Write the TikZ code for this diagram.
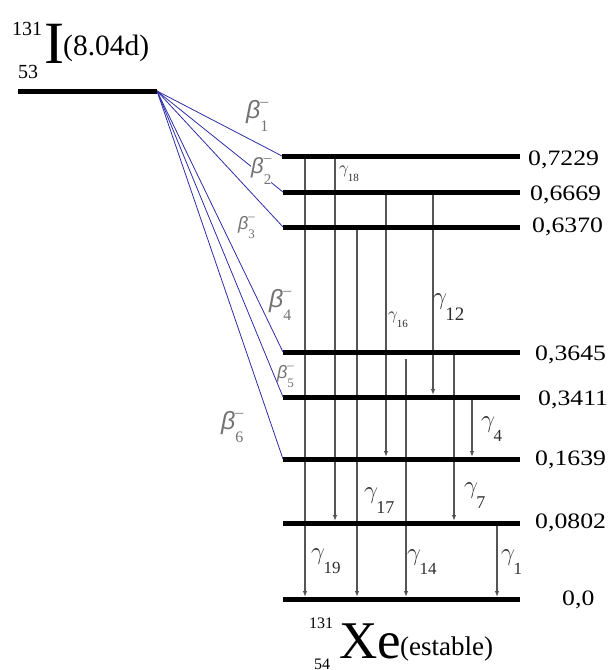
\documentclass[tikz,border=0pt]{standalone}
\usepackage{fontspec}
\setmainfont{Liberation Serif}
\newfontfamily\bfam{Liberation Sans}
\usetikzlibrary{arrows.meta}
\definecolor{betaline}{RGB}{45,45,165}
\definecolor{gline}{RGB}{85,85,85}
\definecolor{glab}{RGB}{45,45,45}
\definecolor{blab}{RGB}{115,115,115}
\newcommand\gam[3]{{\fontsize{#1}{#1}\selectfont$\gamma$\kern-0.06em\raisebox{-0.5em}{\fontsize{#2}{#2}\selectfont #3}}}
\newcommand\bet[3]{{\fontsize{#1}{#1}\selectfont{\bfam\itshape β}\rlap{\raisebox{0.5em}{\fontsize{#2}{#2}\selectfont –}}\raisebox{-0.5em}{\fontsize{#2}{#2}\selectfont #3}}}
\begin{document}
\begin{tikzpicture}[x=1pt,y=-1pt,
  lvl/.style={line width=5pt},
  gam/.style={draw=gline, line width=1.1pt, -{Latex[length=6pt,width=4.5pt]}, shorten >=2pt},
  bline/.style={draw=betaline, line width=0.8pt},
  elab/.style={anchor=base west, inner sep=0pt, font=\fontsize{22}{22}\selectfont, xscale=1.17},
  glabel/.style={anchor=west, inner sep=0pt, text=glab},
  blabel/.style={anchor=west, inner sep=0pt, text=blab},
  tlab/.style={inner sep=0pt}
]
\useasboundingbox (0,0) rectangle (612,670);
% title
\node[tlab, anchor=base west, font=\fontsize{20}{20}\selectfont] (t131) at (12,35) {131};
\node[tlab, anchor=base west, font=\fontsize{60}{60}\selectfont] (tI) at (44,63) {I};
\node[tlab, anchor=base west, font=\fontsize{29.5}{29.5}\selectfont] (thalf) at (63,55) {(8.04d)};
\node[tlab, anchor=base west, font=\fontsize{20}{20}\selectfont] (t53) at (18,78) {53};
% level coordinates
\coordinate (Pl) at (18,91); \coordinate (Pr) at (157,91);
\coordinate (A) at (282,156); \coordinate (Ar) at (520,156);
\coordinate (B) at (283,192); \coordinate (Br) at (520,192);
\coordinate (C) at (283,227); \coordinate (Cr) at (520,227);
\coordinate (D) at (283,352); \coordinate (Dr) at (520,352);
\coordinate (E) at (283,397); \coordinate (Er) at (520,397);
\coordinate (F) at (283,459); \coordinate (Fr) at (520,459);
\coordinate (G) at (283,523); \coordinate (Gr) at (520,523);
\coordinate (H) at (283,599); \coordinate (Hr) at (520,599);
% gamma columns
\coordinate (x19) at (305,0); \coordinate (x18) at (335,0);
\coordinate (x17) at (357,0); \coordinate (x16) at (386,0);
\coordinate (x14) at (406,0); \coordinate (x12) at (433,0);
\coordinate (x7) at (454,0);  \coordinate (x4) at (472,0);
\coordinate (x1) at (497,0);
\coordinate (D14) at (406,359);
% gamma transitions
\draw[gam] (x19 |- A) -- (x19 |- H);
\draw[gam] (x18 |- A) -- (x18 |- G);
\draw[gam] (x17 |- C) -- (x17 |- H);
\draw[gam] (x16 |- B) -- (x16 |- F);
\draw[gam] (x12 |- B) -- (x12 |- E);
\draw[gam] (D14) -- (x14 |- H);
\draw[gam] (x7 |- D) -- (x7 |- G);
\draw[gam] (x4 |- E) -- (x4 |- F);
\draw[gam] (x1 |- G) -- (x1 |- H);
% beta transitions
\draw[bline] (Pr) -- (A);
\draw[bline] (Pr) -- (B);
\draw[bline] (Pr) -- (C);
\draw[bline] (Pr) -- (D);
\draw[bline] (Pr) -- (E);
\draw[bline] (Pr) -- (F);
% levels
\draw[lvl] (Pl) -- (Pr);
\draw[lvl] (A) -- (Ar);
\draw[lvl] (B) -- (Br);
\draw[lvl] (C) -- (Cr);
\draw[lvl] (D) -- (Dr);
\draw[lvl] (E) -- (Er);
\draw[lvl] (F) -- (Fr);
\draw[lvl] (G) -- (Gr);
\draw[lvl] (H) -- (Hr);
% energy labels
\node[elab] (eA) at (528,165) {0,7229};
\node[elab] (eB) at (530,200) {0,6669};
\node[elab] (eC) at (532,232) {0,6370};
\node[elab] (eD) at (535,360) {0,3645};
\node[elab] (eE) at (538,405) {0,3411};
\node[elab] (eF) at (535,465) {0,1639};
\node[elab] (eG) at (535,528) {0,0802};
\node[elab] (eH) at (562,605) {0,0};
% beta labels
\node[blabel] (b1) at (246,116) {\bet{25}{16}{1}};
\node[blabel, fill=white] (b2) at (251,171) {\bet{22}{15}{2}};
\node[blabel] (b3) at (238,228) {\bet{18}{13}{3}};
\node[blabel] (b4) at (269,305) {\bet{25}{16}{4}};
\node[blabel] (b5) at (277,377) {\bet{18}{13}{5}};
\node[blabel] (b6) at (221,427) {\bet{25}{16}{6}};
% gamma labels
\node[glabel] (g18) at (339,174) {\gam{17}{11}{18}};
\node[glabel] (g16) at (388,320) {\gam{17}{11}{16}};
\node[glabel] (g12) at (433,307) {\gam{32}{19}{12}};
\node[glabel] (g4) at (481,429) {\gam{28}{17}{4}};
\node[glabel] (g17) at (364,501) {\gam{30}{18}{17}};
\node[glabel] (g7) at (464,496) {\gam{30}{18}{7}};
\node[glabel] (g19) at (311,561) {\gam{28}{17}{19}};
\node[glabel] (g14) at (407,562) {\gam{28}{17}{14}};
\node[glabel] (g1) at (501,562) {\gam{28}{17}{1}};
% daughter
\node[tlab, anchor=base, font=\fontsize{16}{16}\selectfont] (x131) at (321,628) {131};
\node[tlab, anchor=base west, font=\fontsize{53}{53}\selectfont] (xXe) at (339,658) {Xe};
\node[tlab, anchor=base west, font=\fontsize{27}{27}\selectfont] (xst) at (400,655) {(estable)};
\node[tlab, anchor=base, font=\fontsize{16}{16}\selectfont] (x54) at (322,669) {54};
\end{tikzpicture}
\end{document}
